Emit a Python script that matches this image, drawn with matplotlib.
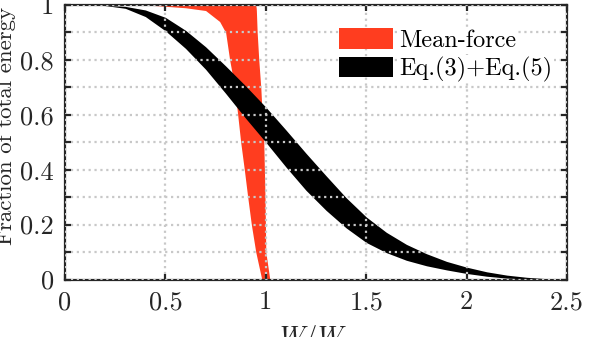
import numpy as np
import matplotlib
matplotlib.use('Agg')
import matplotlib.pyplot as plt

plt.rcParams['font.family'] = 'serif'
plt.rcParams['font.serif'] = ['cmr10']
plt.rcParams['mathtext.fontset'] = 'cm'
plt.rcParams['axes.formatter.use_mathtext'] = True
plt.rcParams['font.size'] = 19

# Eq.(3)+Eq.(5) band, upper and lower edge vs W/W0
x_eq = [0.0, 0.1, 0.2, 0.3, 0.4, 0.5, 0.6, 0.7, 0.8, 0.9, 1.0, 1.1, 1.2,
        1.3, 1.4, 1.5, 1.6, 1.7, 1.8, 1.9, 2.0, 2.1, 2.2, 2.3, 2.4, 2.5]
eq_upper = [1.0, 1.0, 0.999, 0.995, 0.982, 0.955, 0.908, 0.848, 0.778, 0.705,
            0.628, 0.545, 0.46, 0.378, 0.298, 0.228, 0.172, 0.128, 0.094, 0.066,
            0.045, 0.028, 0.016, 0.008, 0.003, 0.0]
eq_lower = [1.0, 1.0, 0.998, 0.988, 0.958, 0.906, 0.842, 0.766, 0.678, 0.587,
            0.50, 0.41, 0.325, 0.252, 0.188, 0.135, 0.098, 0.07, 0.05, 0.035,
            0.022, 0.012, 0.005, 0.002, 0.0, 0.0]

# Mean-force band, left and right edge vs fraction of energy
y_mf = [1.0, 0.998, 0.99, 0.98, 0.94, 0.9, 0.8, 0.7, 0.6, 0.5, 0.4, 0.3,
        0.2, 0.1, 0.05, 0.0]
mf_left = [0.3, 0.45, 0.6, 0.7, 0.77, 0.80, 0.82, 0.845, 0.86, 0.875, 0.893,
           0.91, 0.928, 0.95, 0.965, 0.98]
mf_right = [0.95, 0.95, 0.952, 0.953, 0.955, 0.957, 0.965, 0.975, 0.982,
            0.99, 0.993, 0.996, 0.998, 1.0, 1.01, 1.02]

red = '#ff3d1f'
dark = '#262626'

fig = plt.figure(figsize=(5.98, 3.37), dpi=100)
ax = fig.add_axes([0.1087, 0.1706, 0.8395, 0.8145])

ax.fill_betweenx(y_mf, mf_left, mf_right, color=red, lw=0, label='Mean-force')
ax.fill_between(x_eq, eq_lower, eq_upper, color='black', lw=0,
                label='Eq.(3)+Eq.(5)')

ax.set_xlim(0, 2.5)
ax.set_ylim(0, 1)
ax.set_xticks(np.arange(0, 2.51, 0.5))
ax.set_xticklabels(['0', '0.5', '1', '1.5', '2', '2.5'])
ax.set_yticks(np.arange(0, 1.01, 0.2))
ax.set_yticklabels(['0', '0.2', '0.4', '0.6', '0.8', '1'])
ax.set_yticks(np.arange(0.1, 1.0, 0.2), minor=True)

ax.set_axisbelow(False)
ax.grid(True, which='both', axis='y', ls=':', color='#c8c8c8', lw=1.6)
ax.grid(True, which='major', axis='x', ls=':', color='#c8c8c8', lw=1.6)

for s in ax.spines.values():
    s.set_linewidth(1.6)
    s.set_color(dark)
ax.tick_params(which='both', direction='in', length=4, width=1.6,
               color=dark, top=True, right=True, pad=8, labelcolor=dark)

ax.set_xlabel('$W/W_0$', labelpad=6, color=dark)
ax.set_ylabel('Fraction of total energy', color=dark, fontsize=16.5)
ax.yaxis.set_label_coords(-0.098, 0.56)

leg = ax.legend(loc='upper left', bbox_to_anchor=(0.545, 0.915),
                frameon=False, fontsize=17.5, handlelength=2.25,
                handleheight=0.9, handletextpad=0.25, labelspacing=0.2,
                borderpad=0, borderaxespad=0)
for t in leg.get_texts():
    t.set_bbox(dict(facecolor='white', edgecolor='none', pad=1))

fig.savefig('out.png', dpi=100)
